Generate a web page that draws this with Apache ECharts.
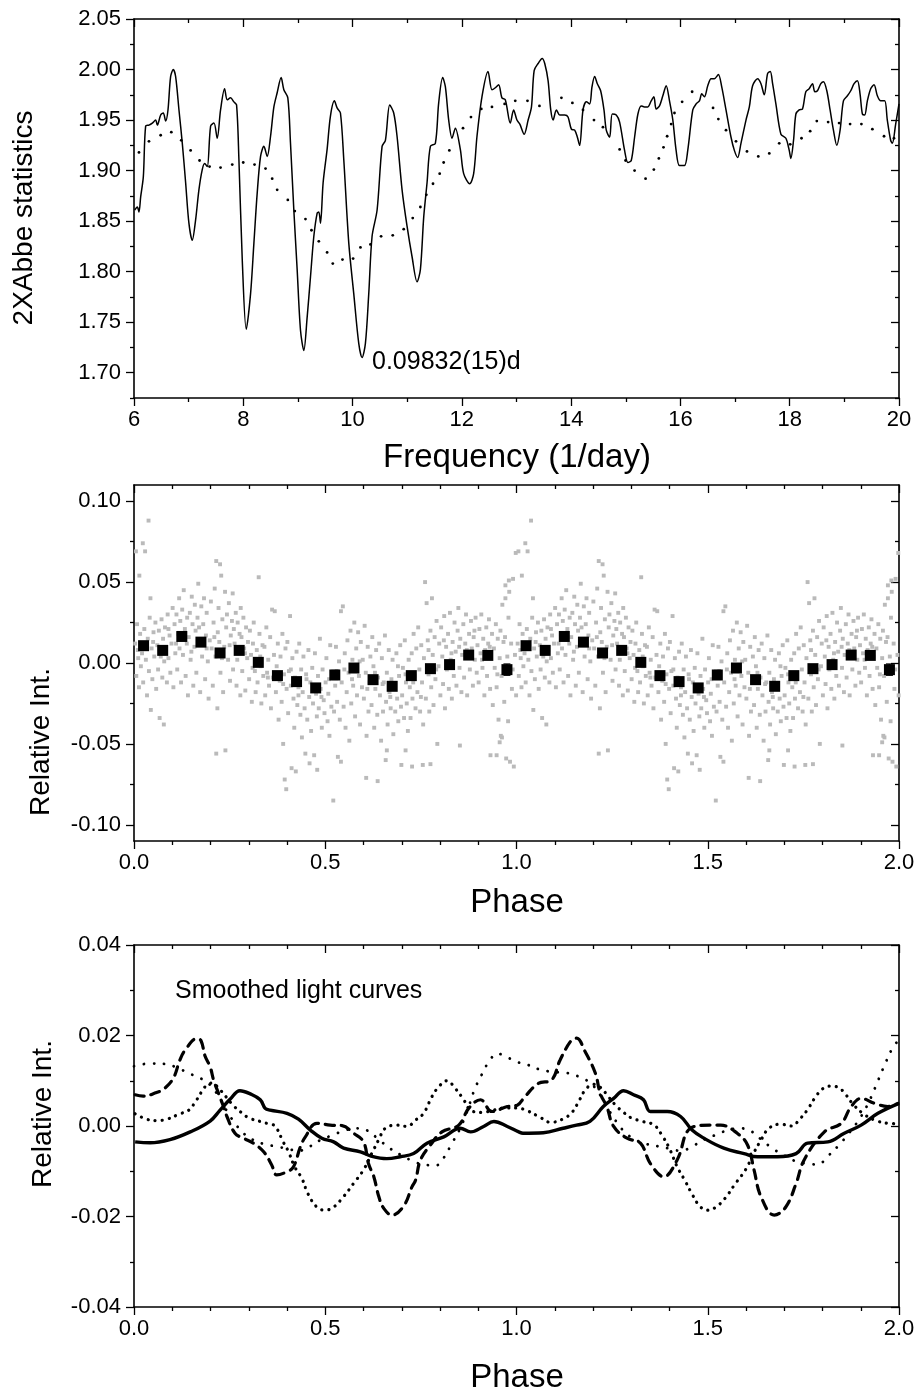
<!DOCTYPE html>
<html>
<head>
<meta charset="utf-8">
<script src="https://cdn.jsdelivr.net/npm/echarts@6/dist/echarts.min.js"></script>
<style>
html,body{margin:0;padding:0;background:#fff;}
#chart{width:918px;height:1396px;}
</style>
</head>
<body>
<div id="chart"></div>
<script>
// ---------- Panel 1: Abbe statistics vs frequency ----------
const abbeCurve = [
[6.012,1.861],[6.061,1.864],[6.091,1.859],[6.122,1.874],[6.171,1.894],[6.213,1.944],[6.274,1.945],[6.335,1.947],[6.396,1.950],[6.427,1.945],
[6.488,1.955],[6.536,1.957],[6.579,1.949],[6.622,1.960],[6.670,1.993],[6.719,2.000],[6.762,1.993],[6.823,1.960],[6.884,1.927],[6.945,1.888],
[7.005,1.848],[7.066,1.831],[7.127,1.851],[7.188,1.881],[7.249,1.901],[7.292,1.907],[7.341,1.904],[7.402,1.944],[7.463,1.947],[7.523,1.932],
[7.584,1.960],[7.658,1.981],[7.706,1.970],[7.767,1.972],[7.828,1.968],[7.877,1.965],[7.920,1.911],[7.981,1.812],[8.054,1.743],[8.133,1.778],
[8.194,1.828],[8.255,1.878],[8.316,1.914],[8.377,1.924],[8.438,1.914],[8.499,1.934],[8.560,1.963],[8.620,1.977],[8.693,1.992],[8.742,1.980],
[8.815,1.972],[8.864,1.927],[8.925,1.861],[8.986,1.802],[9.047,1.742],[9.108,1.722],[9.169,1.755],[9.230,1.795],[9.291,1.835],[9.352,1.858],
[9.382,1.859],[9.413,1.848],[9.461,1.888],[9.534,1.921],[9.595,1.954],[9.668,1.969],[9.717,1.962],[9.778,1.957],[9.839,1.911],[9.931,1.828],
[10.022,1.778],[10.113,1.729],[10.174,1.715],[10.235,1.729],[10.296,1.778],[10.357,1.835],[10.449,1.861],[10.540,1.924],[10.601,1.930],[10.680,1.965],
[10.753,1.957],[10.814,1.934],[10.906,1.881],[10.997,1.845],[11.088,1.815],[11.180,1.790],[11.241,1.802],[11.302,1.854],[11.363,1.888],[11.424,1.924],
[11.515,1.927],[11.576,1.967],[11.649,1.992],[11.698,1.983],[11.759,1.950],[11.820,1.932],[11.881,1.942],[11.972,1.921],[12.033,1.897],[12.143,1.887],
[12.216,1.897],[12.277,1.934],[12.368,1.973],[12.478,1.998],[12.551,1.980],[12.612,1.982],[12.673,1.985],[12.734,1.972],[12.795,1.970],[12.886,1.947],
[12.947,1.960],[13.008,1.950],[13.061,1.946],[13.140,1.936],[13.213,1.950],[13.274,1.963],[13.323,1.999],[13.396,2.006],[13.469,2.011],[13.517,2.006],
[13.578,1.989],[13.627,1.960],[13.670,1.950],[13.730,1.960],[13.791,1.955],[13.883,1.955],[13.943,1.953],[14.004,1.941],[14.065,1.940],[14.114,1.933],
[14.156,1.925],[14.217,1.960],[14.278,1.968],[14.339,1.966],[14.382,1.983],[14.430,1.993],[14.479,1.986],[14.540,1.979],[14.601,1.960],[14.643,1.940],
[14.704,1.933],[14.753,1.956],[14.826,1.955],[14.887,1.948],[14.978,1.920],[15.039,1.908],[15.100,1.910],[15.161,1.933],[15.222,1.956],[15.282,1.964],
[15.343,1.963],[15.404,1.963],[15.465,1.969],[15.514,1.973],[15.556,1.961],[15.617,1.964],[15.678,1.974],[15.739,1.984],[15.800,1.969],[15.861,1.950],
[15.921,1.920],[15.982,1.905],[16.074,1.905],[16.134,1.920],[16.226,1.960],[16.287,1.966],[16.348,1.969],[16.390,1.976],[16.439,1.973],[16.500,1.984],
[16.561,1.991],[16.621,1.991],[16.694,1.995],[16.755,1.983],[16.834,1.960],[16.926,1.933],[16.987,1.920],[17.047,1.913],[17.108,1.927],[17.200,1.950],
[17.261,1.963],[17.321,1.984],[17.413,1.991],[17.474,1.986],[17.534,1.975],[17.595,1.996],[17.644,1.998],[17.687,1.986],[17.747,1.966],[17.839,1.936],
[17.930,1.932],[17.991,1.920],[18.021,1.912],[18.070,1.930],[18.113,1.956],[18.173,1.960],[18.234,1.961],[18.295,1.978],[18.356,1.981],[18.417,1.986],
[18.460,1.978],[18.508,1.979],[18.569,1.986],[18.618,1.988],[18.679,1.979],[18.739,1.960],[18.800,1.940],[18.861,1.925],[18.922,1.940],[18.983,1.969],
[19.056,1.974],[19.117,1.979],[19.178,1.986],[19.239,1.989],[19.287,1.976],[19.330,1.956],[19.372,1.955],[19.421,1.969],[19.482,1.981],[19.543,1.985],
[19.604,1.974],[19.665,1.969],[19.738,1.969],[19.786,1.950],[19.847,1.930],[19.878,1.927],[19.939,1.946],[20.000,1.966]
];
const abbeDots = [
[6.091,1.918],[6.274,1.929],[6.488,1.935],[6.683,1.938],[6.865,1.930],[7.036,1.920],[7.200,1.910],[7.383,1.904],[7.584,1.903],[7.798,1.906],
[7.999,1.908],[8.206,1.906],[8.407,1.902],[8.529,1.892],[8.620,1.881],[8.815,1.871],[8.943,1.860],[9.138,1.852],[9.248,1.841],[9.382,1.830],
[9.534,1.819],[9.638,1.808],[9.815,1.812],[10.010,1.813],[10.144,1.824],[10.327,1.827],[10.522,1.835],[10.735,1.836],[10.936,1.842],[11.101,1.853],
[11.241,1.864],[11.350,1.876],[11.472,1.887],[11.594,1.897],[11.667,1.908],[11.771,1.920],[12.021,1.942],[12.167,1.953],[12.356,1.961],[12.551,1.963],
[12.783,1.966],[12.977,1.969],[13.201,1.969],[13.420,1.964],[13.822,1.972],[14.023,1.967],[14.217,1.960],[14.418,1.950],[14.582,1.943],[14.887,1.921],
[14.996,1.910],[15.161,1.900],[15.362,1.892],[15.514,1.901],[15.605,1.912],[15.690,1.923],[15.757,1.934],[15.830,1.946],[15.891,1.957],[16.031,1.968],
[16.214,1.978],[16.597,1.962],[16.694,1.951],[16.834,1.940],[17.017,1.929],[17.218,1.919],[17.425,1.914],[17.626,1.917],[17.808,1.927],[18.009,1.926],
[18.216,1.932],[18.374,1.939],[18.496,1.949],[18.703,1.948],[18.904,1.947],[19.105,1.946],[19.312,1.946],[19.513,1.941],[19.726,1.934],[19.908,1.932]
];
const freqTicks = [6, 8, 10, 12, 14, 16, 18, 20];
const abbeMajor = [1.70, 1.75, 1.80, 1.85, 1.90, 1.95, 2.00, 2.05];
const abbeMinor = [1.675, 1.725, 1.775, 1.825, 1.875, 1.925, 1.975, 2.025];
const periodLabel = '0.09832(15)d';

// ---------- Panel 2: phased light curve (one cycle, shown twice) ----------
const grayCloud = [
[0.003,0.012],[0.006,-0.008],[0.008,0.024],[0.011,0.003],[0.013,-0.015],[0.016,0.018],[0.018,-0.002],[0.005,0.069],[0.014,0.054],
[0.021,0.006],[0.023,0.074],[0.024,-0.012],[0.027,0.021],[0.029,0.069],[0.031,0.002],[0.034,-0.02],[0.036,0.015],[0.038,0.088],[0.039,-0.005],
[0.041,0.028],[0.043,0.040],[0.044,-0.029],[0.046,0.009],[0.048,-0.01],[0.051,0.019],[0.053,0.004],[0.056,0.025],[0.058,-0.016],
[0.061,0.011],[0.063,-0.004],[0.065,0.02],[0.067,-0.034],[0.069,0.007],[0.072,0.027],[0.074,-0.009],[0.076,0.015],[0.078,-0.038],[0.079,0.001],
[0.081,0.022],[0.083,0.008],[0.086,-0.012],[0.088,0.03],[0.09,0.003],[0.093,0.017],[0.095,-0.006],[0.098,0.012],
[0.101,0.034],[0.103,-0.015],[0.106,0.024],[0.108,0.006],[0.111,0.03],[0.113,-0.004],[0.116,0.018],[0.118,0.04],[0.119,0.009],
[0.121,0.026],[0.123,-0.012],[0.126,0.033],[0.128,0.005],[0.13,0.045],[0.133,0.021],[0.135,-0.008],[0.138,0.012],[0.139,0.028],
[0.141,-0.02],[0.143,0.016],[0.146,0.031],[0.148,0.002],[0.151,0.041],[0.153,0.024],[0.155,-0.014],[0.158,0.01],[0.159,0.036],
[0.161,0.02],[0.163,-0.006],[0.166,0.028],[0.168,0.049],[0.171,0.013],[0.173,-0.018],[0.176,0.035],[0.178,0.004],
[0.181,0.024],[0.183,0.04],[0.186,-0.01],[0.188,0.017],[0.19,0.031],[0.193,0.001],[0.195,-0.022],[0.198,0.014],
[0.201,0.038],[0.203,0.009],[0.206,-0.014],[0.208,0.025],[0.211,0.046],[0.213,0.004],[0.215,0.063],[0.218,-0.028],[0.219,0.019],[0.215,-0.056],
[0.221,0.034],[0.223,0.013],[0.225,0.061],[0.226,-0.006],[0.228,0.054],[0.231,0.027],[0.233,-0.018],[0.236,0.01],[0.238,0.044],[0.239,-0.054],
[0.241,0.022],[0.243,0.03],[0.246,0.002],[0.248,0.037],[0.251,-0.011],[0.253,0.017],[0.256,0.026],[0.258,0.043],[0.259,-0.004],
[0.261,0.021],[0.263,0.012],[0.266,0.031],[0.268,-0.014],[0.271,0.025],[0.273,0.006],[0.276,0.018],[0.278,-0.02],[0.279,0.034],
[0.281,0.016],[0.283,-0.005],[0.286,0.028],[0.288,0.009],[0.291,-0.017],[0.293,0.022],[0.296,0.003],[0.298,0.013],
[0.301,-0.01],[0.303,0.02],[0.306,0.005],[0.308,-0.024],[0.311,0.012],[0.313,0.025],[0.316,-0.005],[0.318,-0.018],
[0.321,0.008],[0.323,-0.012],[0.326,0.053],[0.328,0.018],[0.331,-0.002],[0.333,-0.025],[0.336,0.011],[0.338,-0.008],
[0.341,0.01],[0.343,-0.02],[0.346,0.022],[0.348,-0.006],[0.351,0.002],[0.353,-0.014],[0.356,0.016],[0.358,-0.028],
[0.361,0.033],[0.363,-0.009],[0.366,0.005],[0.368,0.032],[0.371,-0.018],[0.373,-0.002],[0.376,0.012],[0.378,-0.035],
[0.381,-0.011],[0.383,0.004],[0.386,-0.024],[0.388,0.018],[0.39,-0.05],[0.392,-0.007],[0.394,-0.072],[0.396,0.009],[0.398,-0.078],[0.399,-0.016],
[0.401,0.013],[0.403,-0.031],[0.405,-0.005],[0.408,0.029],[0.41,-0.014],[0.412,-0.065],[0.414,0.003],[0.417,-0.022],[0.419,-0.04],
[0.421,-0.009],[0.423,-0.067],[0.425,0.007],[0.427,-0.026],[0.43,-0.015],[0.432,0.012],[0.435,-0.032],[0.437,-0.004],[0.439,-0.046],
[0.441,-0.018],[0.443,0.004],[0.446,-0.028],[0.448,-0.056],[0.451,-0.01],[0.453,-0.035],[0.456,0.008],[0.458,-0.021],[0.459,-0.062],
[0.461,-0.012],[0.463,-0.042],[0.466,-0.003],[0.468,-0.025],[0.471,-0.057],[0.473,0.006],[0.476,-0.019],[0.478,-0.033],[0.479,-0.066],
[0.481,-0.008],[0.483,-0.028],[0.486,0.015],[0.488,-0.016],[0.491,-0.04],[0.493,-0.004],[0.496,-0.023],[0.498,-0.031],
[0.501,-0.012],[0.503,0.003],[0.506,-0.036],[0.508,-0.019],[0.511,-0.045],[0.513,0.011],[0.516,-0.027],[0.518,-0.007],
[0.521,-0.085],[0.523,-0.03],[0.526,-0.014],[0.528,0.01],[0.531,-0.024],[0.533,-0.058],[0.536,0.001],[0.538,-0.035],
[0.541,0.032],[0.543,-0.012],[0.546,0.035],[0.548,-0.027],[0.551,0.006],[0.553,-0.04],[0.556,-0.018],[0.558,0.014],[0.541,-0.061],
[0.561,-0.006],[0.563,-0.048],[0.566,0.02],[0.568,-0.025],[0.571,0.002],[0.573,-0.014],[0.576,0.025],[0.578,-0.033],
[0.581,0.009],[0.583,-0.02],[0.586,0.019],[0.588,-0.008],[0.591,-0.038],[0.593,0.013],[0.596,-0.015],[0.598,0.002],
[0.601,-0.022],[0.603,0.023],[0.606,-0.006],[0.608,-0.045],[0.611,0.01],[0.613,-0.03],[0.616,-0.012],[0.618,0.004],[0.607,-0.071],
[0.621,-0.026],[0.623,0.016],[0.626,-0.002],[0.628,-0.04],[0.631,-0.016],[0.633,0.008],[0.636,-0.032],[0.638,-0.009],[0.637,-0.073],
[0.641,0.012],[0.643,-0.02],[0.646,-0.048],[0.648,0.003],[0.651,-0.03],[0.653,-0.012],[0.656,0.017],[0.658,-0.06],[0.659,-0.024],
[0.661,-0.006],[0.663,-0.038],[0.666,0.008],[0.668,-0.018],[0.671,-0.028],[0.673,-0.01],[0.676,0.002],[0.678,-0.044],[0.661,-0.054],
[0.681,-0.016],[0.683,-0.03],[0.686,0.006],[0.688,-0.022],[0.691,-0.036],[0.693,-0.008],[0.696,0.011],[0.698,-0.027],[0.699,-0.063],
[0.701,-0.02],[0.703,-0.003],[0.706,-0.034],[0.708,0.014],[0.711,-0.012],[0.713,-0.025],[0.716,-0.042],[0.718,0.002],[0.710,-0.054],
[0.721,-0.015],[0.723,-0.034],[0.726,0.006],[0.728,-0.022],[0.731,0.018],[0.733,-0.008],[0.736,-0.028],[0.738,0.009],[0.727,-0.064],
[0.741,-0.018],[0.743,0.022],[0.746,-0.004],[0.748,-0.03],[0.751,0.011],[0.753,-0.012],[0.756,-0.038],[0.758,0.003],[0.755,-0.063],
[0.761,0.05],[0.763,-0.022],[0.765,0.037],[0.768,0.014],[0.77,-0.007],[0.772,-0.03],[0.775,0.02],[0.777,-0.015],[0.779,0.04],[0.775,-0.0625],
[0.781,0.005],[0.783,-0.026],[0.786,0.016],[0.788,-0.01],[0.791,0.026],[0.793,-0.05],[0.796,-0.002],[0.798,0.012],
[0.801,-0.02],[0.803,0.022],[0.806,0.004],[0.808,-0.013],[0.811,0.029],[0.813,-0.028],[0.816,0.01],[0.818,-0.004],
[0.821,0.018],[0.823,-0.016],[0.826,0.031],[0.828,0.002],[0.831,-0.022],[0.833,0.013],[0.836,-0.008],[0.838,0.025],
[0.841,0.007],[0.843,-0.014],[0.846,0.02],[0.848,0.034],[0.851,-0.003],[0.853,0.015],[0.856,-0.018],[0.858,0.005],[0.852,-0.051],
[0.861,0.024],[0.863,-0.009],[0.866,0.012],[0.868,0.03],[0.871,-0.02],[0.873,0.004],[0.876,0.018],[0.878,-0.004],
[0.881,0.026],[0.883,0.009],[0.886,-0.014],[0.888,0.016],[0.891,0.002],[0.893,0.028],[0.896,-0.006],[0.898,0.011],
[0.901,-0.012],[0.903,0.021],[0.906,0.006],[0.908,0.03],[0.911,-0.003],[0.913,0.015],[0.916,-0.02],[0.918,0.008],
[0.921,0.022],[0.923,-0.008],[0.926,0.012],[0.928,0.027],[0.931,-0.016],[0.933,0.004],[0.936,0.018],[0.938,-0.026],[0.932,-0.057],
[0.941,0.009],[0.943,-0.003],[0.946,0.024],[0.948,-0.015],[0.951,0.015],[0.953,-0.035],[0.956,0.003],[0.958,0.02],[0.959,-0.045],[0.948,-0.057],[0.956,-0.049],
[0.961,-0.008],[0.963,0.036],[0.966,0.013],[0.968,-0.024],[0.971,0.04],[0.973,-0.059],[0.976,0.004],[0.978,-0.036],[0.979,0.028],[0.971,0.048],[0.962,-0.046],
[0.981,0.044],[0.983,-0.061],[0.986,0.012],[0.988,-0.016],[0.991,0.052],[0.993,-0.064],[0.996,0.005],[0.998,0.068],[0.999,-0.02],[0.980,0.051],
// second layer of band points (dense core of the cloud)
[0.010,0.008],[0.030,0.010],[0.050,0.013],[0.070,0.004],[0.090,0.021],[0.110,0.012],[0.130,0.017],[0.150,0.007],[0.170,0.022],[0.190,0.009],
[0.210,0.016],[0.230,0.003],[0.250,0.011],[0.270,0.002],[0.290,0.006],[0.310,-0.003],[0.330,0.004],[0.350,-0.009],[0.370,-0.006],[0.390,-0.013],
[0.410,-0.004],[0.430,-0.020],[0.450,-0.007],[0.470,-0.014],[0.490,-0.021],[0.510,-0.010],[0.530,-0.005],[0.550,-0.004],[0.570,-0.010],[0.590,0.001],
[0.610,-0.016],[0.630,-0.006],[0.650,-0.013],[0.670,-0.021],[0.690,-0.002],[0.710,-0.007],[0.730,-0.012],[0.750,-0.021],[0.770,0.008],[0.790,-0.004],
[0.810,0.014],[0.830,0.006],[0.850,0.010],[0.870,0.008],[0.890,0.020],[0.910,0.002],[0.930,0.010],[0.950,-0.007],[0.970,0.016],[0.990,-0.004]
];
const binPhase = [0.025,0.075,0.125,0.175,0.225,0.275,0.325,0.375,0.425,0.475,0.525,0.575,0.625,0.675,0.725,0.775,0.825,0.875,0.925,0.975];
const binMean  = [0.0107,0.0078,0.0164,0.0129,0.0062,0.0078,0.0004,-0.0078,-0.0115,-0.0154,-0.0074,-0.0031,-0.0103,-0.0144,-0.0078,-0.0035,-0.0010,0.0049,0.0047,-0.0041];
const binErr   = [0.0020,0.0018,0.0020,0.0018,0.0018,0.0020,0.0020,0.0020,0.0022,0.0022,0.0028,0.0020,0.0020,0.0022,0.0020,0.0018,0.0018,0.0018,0.0020,0.0035];
const phaseTicks = [0, 0.5, 1.0, 1.5, 2.0];
const relMajor = [-0.10, -0.05, 0.00, 0.05, 0.10];
const relMinor = [-0.075, -0.025, 0.025, 0.075];

// ---------- Panel 3: smoothed light curves ----------
const smoothSolid = [
[0.003,-0.0035],[0.042,-0.0037],[0.094,-0.0030],[0.147,-0.0013],[0.199,0.0011],[0.225,0.0035],[0.251,0.0059],[0.277,0.0078],[0.304,0.0071],[0.330,0.0058],
[0.343,0.0039],[0.356,0.0035],[0.400,0.0028],[0.430,0.0015],[0.461,-0.0009],[0.491,-0.0027],[0.522,-0.0035],[0.548,-0.0049],[0.592,-0.0057],[0.618,-0.0066],
[0.661,-0.0072],[0.696,-0.0068],[0.731,-0.0061],[0.766,-0.0038],[0.810,-0.0024],[0.853,-0.0005],[0.880,-0.0013],[0.914,-0.0001],[0.941,0.0010],[0.976,-0.0001],
[1.006,-0.0013],[1.017,-0.0016],[1.070,-0.0015],[1.122,-0.0005],[1.157,0.0002],[1.192,0.0010],[1.227,0.0043],[1.254,0.0061],[1.280,0.0078],[1.306,0.0069],
[1.332,0.0058],[1.350,0.0032],[1.394,0.0032],[1.429,0.0021],[1.459,-0.0009],[1.490,-0.0027],[1.542,-0.0049],[1.595,-0.0061],[1.630,-0.0068],[1.682,-0.0068],
[1.731,-0.0061],[1.761,-0.0038],[1.814,-0.0035],[1.857,-0.0016],[1.901,0.0002],[1.945,0.0028],[2.000,0.0050]
];
const smoothDash = [
[0.003,0.0069],[0.024,0.0066],[0.059,0.0074],[0.077,0.0081],[0.103,0.0106],[0.120,0.0146],[0.134,0.0168],[0.164,0.0193],[0.175,0.0189],[0.186,0.0154],
[0.199,0.0131],[0.208,0.0102],[0.221,0.0072],[0.234,0.0043],[0.243,0.0021],[0.264,-0.0016],[0.286,-0.0027],[0.312,-0.0038],[0.339,-0.0057],[0.360,-0.0086],
[0.373,-0.0108],[0.400,-0.0101],[0.417,-0.0090],[0.435,-0.0046],[0.448,-0.0024],[0.478,0.0006],[0.513,0.0002],[0.544,0.0001],[0.574,-0.0016],[0.600,-0.0035],
[0.613,-0.0083],[0.627,-0.0112],[0.640,-0.0156],[0.653,-0.0182],[0.675,-0.0197],[0.705,-0.0177],[0.727,-0.0134],[0.736,-0.0120],[0.749,-0.0075],[0.775,-0.0042],
[0.805,-0.0013],[0.849,0.0002],[0.875,0.0039],[0.906,0.0058],[0.936,0.0032],[0.976,0.0043],[1.002,0.0046],[1.022,0.0065],[1.057,0.0094],[1.092,0.0102],
[1.114,0.0146],[1.144,0.0190],[1.157,0.0194],[1.179,0.0165],[1.206,0.0117],[1.219,0.0072],[1.236,0.0043],[1.254,-0.0001],[1.289,-0.0027],[1.324,-0.0038],
[1.350,-0.0083],[1.385,-0.0112],[1.420,-0.0075],[1.455,-0.0005],[1.507,0.0002],[1.534,0.0002],[1.577,-0.0016],[1.604,-0.0042],[1.621,-0.0097],[1.639,-0.0156],
[1.674,-0.0197],[1.704,-0.0179],[1.731,-0.0127],[1.752,-0.0075],[1.805,-0.0013],[1.849,0.0006],[1.875,0.0043],[1.901,0.0061],[1.936,0.0050],[1.971,0.0043],[1.997,0.0050]
];
const smoothDotDense = [
[0.003,0.0027],[0.033,0.0015],[0.059,0.0012],[0.086,0.0015],[0.120,0.0027],[0.142,0.0034],[0.164,0.0058],[0.177,0.0076],[0.19,0.0090],[0.205,0.0095],
[0.22,0.0085],[0.24,0.0065],[0.26,0.0045],[0.28,0.0030],[0.30,0.0018],[0.33,0.0010],[0.355,0.0004],[0.369,0.0000],[0.39,-0.0035],[0.404,-0.0057],
[0.42,-0.0090],[0.439,-0.0116],[0.455,-0.0150],[0.478,-0.0179],[0.5,-0.0186],[0.522,-0.0179],[0.548,-0.0156],[0.574,-0.0127],[0.6,-0.0097],[0.622,-0.0060],
[0.64,-0.0030],[0.657,-0.0005],[0.688,0.0002],[0.714,-0.0001],[0.736,0.0013],[0.757,0.0028],[0.779,0.0065],[0.797,0.0087],[0.818,0.0100],[0.84,0.0083],
[0.862,0.0058],[0.88,0.0035],[0.91,0.0030],[0.94,0.0035],[0.97,0.0040],[1.0,0.0040],[1.03,0.0033],[1.06,0.0020],[1.09,0.0008],[1.12,0.0015],
[1.145,0.0030],[1.165,0.0058],[1.18,0.0080],[1.2,0.0092],[1.22,0.0085],[1.24,0.0065],[1.26,0.0045],[1.28,0.0030],[1.3,0.0018],[1.33,0.0010],
[1.36,0.0002],[1.38,-0.0020],[1.40,-0.0050],[1.42,-0.0090],[1.44,-0.0120],[1.46,-0.0152],[1.48,-0.0178],[1.5,-0.0186],[1.52,-0.0180],[1.545,-0.0160],
[1.57,-0.0130],[1.6,-0.0095],[1.62,-0.0060],[1.64,-0.0030],[1.66,-0.0005],[1.69,0.0004],[1.72,0.0000],[1.74,0.0015],[1.76,0.0035],[1.78,0.0062],
[1.80,0.0082],[1.82,0.0088],[1.84,0.0086],[1.86,0.0070],[1.88,0.0048],[1.91,0.0025],[1.94,0.0012],[1.97,0.0006],[2.0,0.0005]
];
const smoothDotSparse = [
[0.0,0.0132],[0.04,0.0138],[0.08,0.0137],[0.115,0.0128],[0.142,0.0117],[0.164,0.0109],[0.185,0.0100],[0.205,0.0085],[0.225,0.0060],[0.245,0.0030],
[0.265,0.0005],[0.285,-0.0015],[0.31,-0.0030],[0.34,-0.0040],[0.37,-0.0045],[0.40,-0.0050],[0.43,-0.0055],[0.46,-0.0045],[0.49,-0.0030],[0.52,-0.0020],
[0.55,-0.0010],[0.58,-0.0005],[0.61,-0.0010],[0.64,-0.0030],[0.67,-0.0050],[0.70,-0.0065],[0.73,-0.0078],[0.76,-0.0086],[0.79,-0.0087],[0.81,-0.0070],
[0.83,-0.0040],[0.85,-0.0010],[0.87,0.0030],[0.89,0.0080],[0.91,0.0115],[0.93,0.0145],[0.95,0.0160],[0.975,0.0152],[1.0,0.0142],[1.03,0.0135],
[1.06,0.0125],[1.09,0.0120],[1.12,0.0118],[1.145,0.0115],[1.165,0.0108],[1.185,0.0100],[1.205,0.0085],[1.225,0.0060],[1.245,0.0030],[1.265,0.0005],
[1.285,-0.0015],[1.31,-0.0030],[1.34,-0.0040],[1.37,-0.0045],[1.40,-0.0050],[1.43,-0.0055],[1.46,-0.0045],[1.49,-0.0030],[1.52,-0.0020],[1.55,-0.0010],
[1.58,-0.0005],[1.61,-0.0010],[1.64,-0.0030],[1.67,-0.0050],[1.70,-0.0065],[1.73,-0.0078],[1.76,-0.0083],[1.79,-0.0085],[1.81,-0.0070],[1.84,-0.0045],
[1.87,-0.0015],[1.90,0.0020],[1.925,0.0060],[1.945,0.0100],[1.965,0.0140],[1.985,0.0175],[2.0,0.0190]
];
const smMajor = [-0.04, -0.02, 0.00, 0.02, 0.04];
const smMinor = [-0.03, -0.01, 0.01, 0.03];

// ---------- build ----------
const FONT = '"Liberation Sans", Arial, Helvetica, sans-serif';
const BLACK = '#000';
const grids = [
  {left:134, top:19, width:765, height:379},
  {left:134, top:485, width:765, height:356},
  {left:134, top:945, width:765, height:362}
];
function xAxesFor(g, min, max, interval, split, fmt) {
  const common = {gridIndex:g, type:'value', min:min, max:max, interval:interval,
    splitLine:{show:false}, minorSplitLine:{show:false},
    axisLine:{show:true, onZero:false, lineStyle:{color:BLACK, width:1.6}}};
  return [
    Object.assign({}, common, {position:'bottom',
      axisTick:{show:true, inside:false, length:8, lineStyle:{color:BLACK, width:1.3}},
      minorTick:{show:true, splitNumber:split, length:4, lineStyle:{color:BLACK, width:1.3}},
      axisLabel:{show:true, color:BLACK, fontSize:22, fontFamily:FONT, margin:11, formatter:fmt}}),
    Object.assign({}, common, {position:'top',
      axisTick:{show:true, inside:true, length:8, lineStyle:{color:BLACK, width:1.3}},
      minorTick:{show:true, splitNumber:split, length:4, lineStyle:{color:BLACK, width:1.3}},
      axisLabel:{show:false}})
  ];
}
function yAxesFor(g, min, max, major, minor, fmt) {
  const common = {gridIndex:g, type:'value', min:min, max:max, splitLine:{show:false}};
  const line = {show:true, onZero:false, lineStyle:{color:BLACK, width:1.6}};
  const tl = {color:BLACK, width:1.3};
  return [
    Object.assign({}, common, {position:'left', axisLine:line,
      axisTick:{show:true, inside:false, length:8, customValues:major, lineStyle:tl},
      axisLabel:{show:true, customValues:major, color:BLACK, fontSize:22, fontFamily:FONT, margin:13, formatter:fmt}}),
    Object.assign({}, common, {position:'left', axisLine:{show:false, onZero:false},
      axisTick:{show:true, inside:false, length:4, customValues:minor, lineStyle:tl},
      axisLabel:{show:false}}),
    Object.assign({}, common, {position:'right', axisLine:line,
      axisTick:{show:true, inside:true, length:8, customValues:major, lineStyle:tl},
      axisLabel:{show:false}}),
    Object.assign({}, common, {position:'right', axisLine:{show:false, onZero:false},
      axisTick:{show:true, inside:true, length:4, customValues:minor, lineStyle:tl},
      axisLabel:{show:false}})
  ];
}
const fmtInt = v => String(Math.round(v));
const fmt1 = v => v.toFixed(1);
const fmt2 = v => v.toFixed(2);

const xAxes = [].concat(
  xAxesFor(0, freqTicks[0], freqTicks[freqTicks.length-1], 2, 2, fmtInt),
  xAxesFor(1, phaseTicks[0], phaseTicks[phaseTicks.length-1], 0.5, 5, fmt1),
  xAxesFor(2, phaseTicks[0], phaseTicks[phaseTicks.length-1], 0.5, 5, fmt1)
);
const yAxes = [].concat(
  yAxesFor(0, 1.675, 2.05, abbeMajor, abbeMinor, fmt2),
  yAxesFor(1, -0.11, 0.11, relMajor, relMinor, fmt2),
  yAxesFor(2, -0.04, 0.04, smMajor, smMinor, fmt2)
);

const grayBoth = grayCloud.concat(grayCloud.map(p => [p[0] + 1, p[1]]));
const binBoth = [];
const errBoth = [];
for (let c = 0; c < 2; c++) {
  for (let i = 0; i < binPhase.length; i++) {
    binBoth.push([binPhase[i] + c, binMean[i]]);
    errBoth.push([binPhase[i] + c, binMean[i], binErr[i]]);
  }
}

const series = [
  {type:'line', xAxisIndex:0, yAxisIndex:0, data:abbeCurve, showSymbol:false, smooth:0.3,
   lineStyle:{color:BLACK, width:1.5}, silent:true, animation:false, z:3},
  {type:'scatter', xAxisIndex:0, yAxisIndex:0, data:abbeDots, symbol:'circle', symbolSize:2.8,
   itemStyle:{color:BLACK, opacity:1}, silent:true, animation:false, z:2},
  {type:'scatter', xAxisIndex:2, yAxisIndex:4, data:grayBoth, symbol:'rect', symbolSize:3.9,
   itemStyle:{color:'#bababa', opacity:1}, silent:true, animation:false, z:1},
  {type:'custom', xAxisIndex:2, yAxisIndex:4, data:errBoth, silent:true, animation:false, z:4,
   renderItem: function(params, api) {
     const x = api.value(0), y = api.value(1), e = api.value(2);
     const a = api.coord([x, y + e]), b = api.coord([x, y - e]);
     const st = {stroke:BLACK, lineWidth:1.2};
     return {type:'group', children:[
       {type:'line', shape:{x1:a[0], y1:a[1], x2:b[0], y2:b[1]}, style:st},
       {type:'line', shape:{x1:a[0]-3.5, y1:a[1], x2:a[0]+3.5, y2:a[1]}, style:st},
       {type:'line', shape:{x1:b[0]-3.5, y1:b[1], x2:b[0]+3.5, y2:b[1]}, style:st}
     ]};
   }},
  {type:'scatter', xAxisIndex:2, yAxisIndex:4, data:binBoth, symbol:'rect', symbolSize:11,
   itemStyle:{color:BLACK, opacity:1}, silent:true, animation:false, z:5},
  {type:'line', xAxisIndex:4, yAxisIndex:8, data:smoothDotSparse, showSymbol:false, smooth:0.4,
   lineStyle:{color:BLACK, width:2.8, type:[0.1, 10], cap:'round'}, silent:true, animation:false, z:2},
  {type:'line', xAxisIndex:4, yAxisIndex:8, data:smoothDotDense, showSymbol:false, smooth:0.4,
   lineStyle:{color:BLACK, width:3.2, type:[0.1, 7], cap:'round'}, silent:true, animation:false, z:2},
  {type:'line', xAxisIndex:4, yAxisIndex:8, data:smoothDash, showSymbol:false, smooth:0.4,
   lineStyle:{color:BLACK, width:3.2, type:[9, 7], cap:'round'}, silent:true, animation:false, z:3},
  {type:'line', xAxisIndex:4, yAxisIndex:8, data:smoothSolid, showSymbol:false, smooth:0.4,
   lineStyle:{color:BLACK, width:3.4}, silent:true, animation:false, z:4}
];

function txt(x, y, text, size, opts) {
  opts = opts || {};
  return {type:'text', x:x, y:y, rotation:opts.rot || 0, silent:true,
    style:{text:text, fill:BLACK, font: size + 'px ' + FONT,
      align: opts.align || 'center', verticalAlign:'middle'}};
}
const graphics = [
  txt(24, 218, '2XAbbe statistics', 28, {rot:Math.PI/2}),
  txt(517, 458, 'Frequency (1/day)', 33),
  txt(372, 362, periodLabel, 25, {align:'left'}),
  txt(41, 742, 'Relative Int.', 28, {rot:Math.PI/2}),
  txt(517, 903, 'Phase', 33),
  txt(43, 1114, 'Relative Int.', 28, {rot:Math.PI/2}),
  txt(175, 991, 'Smoothed light curves', 25, {align:'left'}),
  txt(517, 1378, 'Phase', 33)
];

const chart = echarts.init(document.getElementById('chart'), null, {renderer:'canvas', width:918, height:1396});
chart.setOption({
  backgroundColor:'#ffffff',
  animation:false,
  textStyle:{fontFamily:FONT, color:BLACK},
  grid:grids,
  xAxis:xAxes,
  yAxis:yAxes,
  series:series,
  graphic:graphics
});
</script>
</body>
</html>
